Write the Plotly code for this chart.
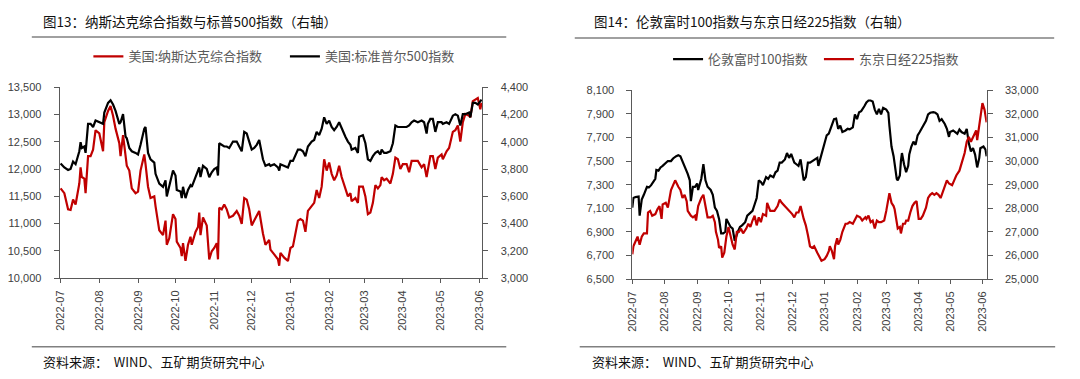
import plotly.graph_objects as go

# ---------------- data: chart 13 (Nasdaq / S&P 500) ----------------
L_DATES = [
    "2022-07-01", "2022-07-04", "2022-07-07", "2022-07-09", "2022-07-11", "2022-07-13", "2022-07-16", "2022-07-17",
    "2022-07-18", "2022-07-20", "2022-07-21", "2022-07-23", "2022-07-25", "2022-07-27", "2022-07-29",
    "2022-08-01", "2022-08-04", "2022-08-05", "2022-08-08", "2022-08-10", "2022-08-12", "2022-08-14", "2022-08-17",
    "2022-08-18", "2022-08-20", "2022-08-22", "2022-08-23", "2022-08-25", "2022-08-27", "2022-08-30",
    "2022-09-01", "2022-09-03", "2022-09-06", "2022-09-07", "2022-09-09", "2022-09-11", "2022-09-14", "2022-09-15",
    "2022-09-18", "2022-09-21", "2022-09-23", "2022-09-24", "2022-09-26", "2022-09-29",
    "2022-10-01", "2022-10-02", "2022-10-05", "2022-10-06", "2022-10-07", "2022-10-09", "2022-10-11", "2022-10-13",
    "2022-10-14", "2022-10-17", "2022-10-19", "2022-10-20", "2022-10-21", "2022-10-23", "2022-10-26", "2022-10-28",
    "2022-10-30",
    "2022-11-01", "2022-11-03", "2022-11-04", "2022-11-05", "2022-11-07", "2022-11-09", "2022-11-11", "2022-11-13",
    "2022-11-16", "2022-11-19", "2022-11-21", "2022-11-23", "2022-11-25", "2022-11-27", "2022-11-29",
    "2022-12-01", "2022-12-03", "2022-12-05", "2022-12-07", "2022-12-10", "2022-12-12", "2022-12-15", "2022-12-16",
    "2022-12-19", "2022-12-22", "2022-12-23", "2022-12-24", "2022-12-27", "2022-12-30",
    "2023-01-01", "2023-01-03", "2023-01-07", "2023-01-09", "2023-01-11", "2023-01-13", "2023-01-15", "2023-01-18",
    "2023-01-20", "2023-01-22", "2023-01-24", "2023-01-26", "2023-01-28", "2023-01-30",
    "2023-02-01", "2023-02-03", "2023-02-05", "2023-02-07", "2023-02-09", "2023-02-11", "2023-02-14", "2023-02-16",
    "2023-02-18", "2023-02-19", "2023-02-22", "2023-02-24", "2023-02-25", "2023-02-28",
    "2023-03-02", "2023-03-04", "2023-03-06", "2023-03-08", "2023-03-10", "2023-03-12", "2023-03-14", "2023-03-15",
    "2023-03-17", "2023-03-19", "2023-03-22", "2023-03-24", "2023-03-26", "2023-03-28", "2023-03-30",
    "2023-04-01", "2023-04-04", "2023-04-06", "2023-04-08", "2023-04-10", "2023-04-13", "2023-04-16", "2023-04-18",
    "2023-04-20", "2023-04-21", "2023-04-23", "2023-04-25", "2023-04-27", "2023-04-29",
    "2023-05-02", "2023-05-03", "2023-05-06", "2023-05-08", "2023-05-11", "2023-05-13", "2023-05-15", "2023-05-17",
    "2023-05-19", "2023-05-21", "2023-05-24", "2023-05-25", "2023-05-27", "2023-05-29", "2023-05-31",
    "2023-06-02", "2023-06-03",
]

NASDAQ = [
    11647, 11558, 11262, 11250, 11440, 11350, 11736, 12032, 11854, 11825, 11558, 12239, 12239, 12357, 12713,
    12654, 12328, 12861, 13068, 13157, 12979, 12742, 12476, 12239, 12624, 12180, 12061, 11973, 11647, 11558,
    11588, 11973, 12269, 12091, 11677, 11469, 11499, 11321, 10877, 10789, 11055, 10611, 10730, 11173,
    11085, 10670, 10552, 10404, 10641, 10315, 10611, 10759, 10611, 10848, 10937, 11203, 10789, 11114, 10966, 10345, 10493,
    10552, 10641, 10345, 11292, 11262, 11350, 11262, 11114, 11144, 11232, 11144, 10996, 11469, 11440, 11262,
    10966, 11055, 11144, 11232, 10818, 10611, 10700, 10523, 10434, 10345, 10227, 10463, 10375, 10315,
    10552, 10582, 11055, 11085, 11055, 10848, 11232, 11321, 11380, 11617, 11469, 11677, 12180, 11973,
    12121, 11913, 11795, 11884, 12061, 11854, 11647, 11499, 11558, 11410, 11469, 11380, 11677, 11677,
    11499, 11173, 11203, 11380, 11706, 11647, 11706, 11854, 11795, 11825, 11736, 11913, 12210, 12180, 12002,
    12091, 12091, 11943, 12150, 12150, 12150, 12032, 12091, 11854, 11973, 12239, 12239, 12002, 12210,
    12269, 12180, 12328, 12387, 12683, 12713, 12802, 12506, 12861, 13009, 12979, 12950, 13245, 13275, 13305,
    13098, 13216,
]

SPX = [
    3841, 3812, 3794, 3801, 3855, 3836, 3931, 3997, 3955, 3966, 3919, 4132, 4132, 4109, 4156,
    4144, 4132, 4215, 4286, 4305, 4274, 4227, 4132, 4144, 4203, 4038, 4026, 3955, 3931, 3919,
    3907, 3978, 4097, 4109, 3919, 3872, 3848, 3765, 3694, 3670, 3718, 3599, 3670, 3789,
    3753, 3647, 3635, 3587, 3670, 3587, 3647, 3682, 3670, 3741, 3789, 3812, 3741, 3824, 3801, 3741, 3777,
    3801, 3812, 3753, 3990, 3978, 3966, 3966, 3955, 4002, 4002, 3966, 3931, 4073, 4061, 4002,
    3943, 3955, 3978, 4014, 3872, 3824, 3836, 3824, 3836, 3812, 3789, 3836, 3824, 3812,
    3860, 3860, 3943, 3943, 3931, 3895, 3966, 4002, 4014, 4073, 4049, 4097, 4180, 4132,
    4156, 4109, 4085, 4109, 4144, 4097, 4038, 4002, 3978, 3943, 3955, 3919, 4038, 4049,
    3990, 3872, 3860, 3895, 3919, 3931, 3907, 3943, 3919, 3919, 3931, 3990, 4120, 4109, 4109,
    4109, 4109, 4120, 4144, 4156, 4144, 4156, 4144, 4061, 4132, 4168, 4168, 4073, 4144,
    4144, 4132, 4144, 4132, 4192, 4203, 4192, 4120, 4203, 4203, 4215, 4180, 4286, 4286, 4274,
    4298, 4310,
]

# ---------------- data: chart 14 (FTSE 100 / Nikkei 225) ----------------
FTSE_DATES = [
    "2022-07-01", "2022-07-02", "2022-07-04", "2022-07-07", "2022-07-08", "2022-07-10", "2022-07-12", "2022-07-15",
    "2022-07-17", "2022-07-19", "2022-07-23", "2022-07-24", "2022-07-26", "2022-07-28", "2022-07-30",
    "2022-08-02", "2022-08-04", "2022-08-07", "2022-08-09", "2022-08-12", "2022-08-14", "2022-08-16", "2022-08-18",
    "2022-08-20", "2022-08-23", "2022-08-25", "2022-08-26", "2022-08-28", "2022-08-30",
    "2022-09-01", "2022-09-02", "2022-09-05", "2022-09-07", "2022-09-09", "2022-09-11", "2022-09-14", "2022-09-16",
    "2022-09-18", "2022-09-20", "2022-09-22", "2022-09-24", "2022-09-26", "2022-09-28", "2022-09-29",
    "2022-10-01", "2022-10-03", "2022-10-05", "2022-10-07", "2022-10-10", "2022-10-12", "2022-10-14", "2022-10-17",
    "2022-10-19", "2022-10-22", "2022-10-24", "2022-10-26", "2022-10-28", "2022-10-30",
    "2022-11-01", "2022-11-03", "2022-11-06", "2022-11-08", "2022-11-10", "2022-11-13", "2022-11-15", "2022-11-17",
    "2022-11-19", "2022-11-21", "2022-11-24", "2022-11-26", "2022-11-28", "2022-11-30",
    "2022-12-03", "2022-12-05", "2022-12-07", "2022-12-09", "2022-12-12", "2022-12-14", "2022-12-16", "2022-12-18",
    "2022-12-20", "2022-12-22", "2022-12-25", "2022-12-26", "2022-12-28", "2022-12-31",
    "2023-01-03", "2023-01-05", "2023-01-07", "2023-01-10", "2023-01-12", "2023-01-14", "2023-01-16", "2023-01-18",
    "2023-01-21", "2023-01-23", "2023-01-25", "2023-01-28", "2023-01-30",
    "2023-02-01", "2023-02-03", "2023-02-05", "2023-02-08", "2023-02-10", "2023-02-12", "2023-02-14", "2023-02-16",
    "2023-02-18", "2023-02-20", "2023-02-22", "2023-02-24", "2023-02-26",
    "2023-03-01", "2023-03-03", "2023-03-04", "2023-03-06", "2023-03-08", "2023-03-09", "2023-03-11", "2023-03-12",
    "2023-03-14", "2023-03-15", "2023-03-16", "2023-03-18", "2023-03-20", "2023-03-22", "2023-03-23", "2023-03-25",
    "2023-03-27", "2023-03-29", "2023-03-31",
    "2023-04-02", "2023-04-05", "2023-04-08", "2023-04-10", "2023-04-12", "2023-04-15", "2023-04-17", "2023-04-19",
    "2023-04-21", "2023-04-23", "2023-04-26", "2023-04-28", "2023-04-30",
    "2023-05-01", "2023-05-04", "2023-05-06", "2023-05-08", "2023-05-10", "2023-05-12", "2023-05-15", "2023-05-17",
    "2023-05-19", "2023-05-21", "2023-05-23", "2023-05-25", "2023-05-27", "2023-05-29", "2023-05-30",
    "2023-06-02", "2023-06-04", "2023-06-05",
]

FTSE = [
    7105, 7187, 7195, 7200, 7037, 7173, 7214, 7282, 7277, 7296, 7350, 7424, 7419, 7446, 7459,
    7487, 7500, 7500, 7522, 7541, 7549, 7541, 7500, 7446, 7391, 7337, 7160, 7282, 7282,
    7310, 7255, 7350, 7473, 7337, 7282, 7255, 7214, 7105, 7078, 7010, 6887, 6887, 6901, 7010,
    6969, 6942, 6928, 6824, 6901, 6942, 6955, 6982, 7037, 7064, 7078, 7132, 7187, 7337,
    7323, 7296, 7364, 7350, 7378, 7364, 7405, 7419, 7487, 7487, 7514, 7568, 7527, 7560,
    7487, 7473, 7459, 7514, 7337, 7364, 7487, 7487, 7500, 7506, 7527, 7459, 7527, 7623,
    7718, 7732, 7786, 7855, 7860, 7773, 7800, 7746, 7759, 7773, 7768, 7786, 7896,
    7855, 7914, 7923, 7964, 7996, 8013, 8013, 8005, 7936, 7896, 7942, 7896, 7950,
    7936, 7909, 7800, 7623, 7541, 7473, 7350, 7337, 7378, 7500, 7568, 7473, 7405, 7459, 7555, 7623,
    7664, 7637, 7718,
    7746, 7800, 7841, 7896, 7909, 7914, 7909, 7896, 7841, 7855, 7814, 7773, 7705,
    7746, 7759, 7746, 7732, 7768, 7746, 7732, 7773, 7650, 7582, 7609, 7555, 7446, 7527, 7609,
    7623, 7596, 7541,
]

NIKKEI_DATES = [
    "2022-07-01", "2022-07-02", "2022-07-04", "2022-07-06", "2022-07-08", "2022-07-10", "2022-07-12", "2022-07-15",
    "2022-07-16", "2022-07-18", "2022-07-20", "2022-07-23", "2022-07-25", "2022-07-27", "2022-07-29", "2022-07-30",
    "2022-08-02", "2022-08-04", "2022-08-07", "2022-08-09", "2022-08-11", "2022-08-14", "2022-08-16", "2022-08-18",
    "2022-08-20", "2022-08-22", "2022-08-23", "2022-08-26", "2022-08-28", "2022-08-30", "2022-08-31",
    "2022-09-02", "2022-09-05", "2022-09-07", "2022-09-09", "2022-09-11", "2022-09-14", "2022-09-16", "2022-09-18",
    "2022-09-19", "2022-09-21", "2022-09-22", "2022-09-24", "2022-09-25", "2022-09-27", "2022-09-29",
    "2022-10-01", "2022-10-03", "2022-10-05", "2022-10-07", "2022-10-09", "2022-10-11", "2022-10-13", "2022-10-15",
    "2022-10-18", "2022-10-20", "2022-10-22", "2022-10-24", "2022-10-26", "2022-10-28", "2022-10-30",
    "2022-11-01", "2022-11-03", "2022-11-06", "2022-11-07", "2022-11-10", "2022-11-12", "2022-11-14", "2022-11-17",
    "2022-11-19", "2022-11-21", "2022-11-24", "2022-11-26", "2022-11-29",
    "2022-12-01", "2022-12-03", "2022-12-05", "2022-12-07", "2022-12-09", "2022-12-12", "2022-12-14", "2022-12-16",
    "2022-12-18", "2022-12-20", "2022-12-22", "2022-12-25", "2022-12-27", "2022-12-29",
    "2023-01-01", "2023-01-03", "2023-01-05", "2023-01-06", "2023-01-08", "2023-01-10", "2023-01-11", "2023-01-13",
    "2023-01-14", "2023-01-16", "2023-01-18", "2023-01-21", "2023-01-23", "2023-01-25", "2023-01-28", "2023-01-30",
    "2023-02-01", "2023-02-04", "2023-02-06", "2023-02-09", "2023-02-10", "2023-02-12", "2023-02-14", "2023-02-16",
    "2023-02-18", "2023-02-20", "2023-02-22", "2023-02-24", "2023-02-27",
    "2023-03-01", "2023-03-03", "2023-03-04", "2023-03-06", "2023-03-08", "2023-03-09", "2023-03-11", "2023-03-12",
    "2023-03-14", "2023-03-15", "2023-03-17", "2023-03-19", "2023-03-20", "2023-03-22", "2023-03-24", "2023-03-26",
    "2023-03-28", "2023-03-30",
    "2023-04-01", "2023-04-03", "2023-04-05", "2023-04-08", "2023-04-10", "2023-04-12", "2023-04-14", "2023-04-16",
    "2023-04-18", "2023-04-20", "2023-04-22", "2023-04-24", "2023-04-26", "2023-04-28", "2023-04-30",
    "2023-05-03", "2023-05-05", "2023-05-07", "2023-05-10", "2023-05-12", "2023-05-15", "2023-05-17", "2023-05-19",
    "2023-05-21", "2023-05-23", "2023-05-26", "2023-05-27", "2023-05-29", "2023-05-30",
    "2023-06-01", "2023-06-03", "2023-06-04", "2023-06-05",
]

NIKKEI = [
    26049, 26389, 26594, 26798, 26457, 26798, 26935, 26935, 27821, 27889, 27684, 27753, 27957, 28093, 27548, 28161,
    28230, 28025, 28775, 28979, 29184, 28911, 28775, 28434, 28570, 28298, 27889, 27684, 27616, 27684, 27480,
    28093, 28434, 28570, 28093, 27616, 27616, 27684, 27412, 27003, 26662, 26321, 26389, 25912, 26116, 26798,
    27207, 26798, 26457, 26253, 27003, 27003, 27139, 26935, 27139, 27344, 27207, 27480, 27684, 27275, 27616,
    27412, 27753, 27684, 28230, 27889, 27889, 27889, 28093, 28366, 28230, 28093, 27957, 27821,
    27753, 27616, 27821, 27821, 28093, 27548, 27275, 26866, 26389, 26321, 26389, 26116, 25912, 25776,
    25844, 25980, 26185, 26389, 26185, 25844, 26389, 26730, 26457, 26662, 27003, 27344, 27344, 27412, 27344, 27548,
    27684, 27616, 27480, 27616, 27548, 27684, 27412, 27480, 27139, 27480, 27412, 27412, 27480,
    27889, 28366, 28639, 28230, 28093, 27957, 27412, 27139, 27207, 26935, 27344, 27344, 27480, 27480, 27821, 28093,
    28230, 28298,
    27548, 27548, 27684, 28025, 28434, 28570, 28639, 28570, 28639, 28570, 28434, 28707, 28979, 29184, 29048,
    28979, 29184, 29389, 29593, 29866, 30342, 30819, 31024, 30819, 31024, 31296, 30887, 31569, 31978,
    32455, 32182, 31773, 31637,
]

MONTH_TICKS = ["2022-07-01", "2022-08-01", "2022-09-01", "2022-10-01", "2022-11-01", "2022-12-01",
               "2023-01-01", "2023-02-01", "2023-03-01", "2023-04-01", "2023-05-01", "2023-06-01"]
MONTH_LABELS = ["2022-07", "2022-08", "2022-09", "2022-10", "2022-11", "2022-12",
                "2023-01", "2023-02", "2023-03", "2023-04", "2023-05", "2023-06"]

TITLE_L = "图13：纳斯达克综合指数与标普500指数（右轴）"
TITLE_R = "图14：伦敦富时100指数与东京日经225指数（右轴）"
SOURCE = "资料来源：  WIND、五矿期货研究中心"

# ---------------- figure ----------------
W, H = 1080, 379
CJK = "Noto Sans CJK SC"
NUM = "Liberation Sans"
RED = "#C00000"
BLACK = "#000000"
AXC = "#595959"
TXT = "#404040"


def px_x(p):
    return p / W


def px_y(p):
    return 1 - p / H


fig = go.Figure()
fig.add_trace(go.Scatter(x=L_DATES, y=NASDAQ, mode="lines", name="美国:纳斯达克综合指数",
                         line=dict(color=RED, width=2.2), xaxis="x", yaxis="y", legend="legend"))
fig.add_trace(go.Scatter(x=L_DATES, y=SPX, mode="lines", name="美国:标准普尔500指数",
                         line=dict(color=BLACK, width=2.2), xaxis="x", yaxis="y2", legend="legend2"))
fig.add_trace(go.Scatter(x=FTSE_DATES, y=FTSE, mode="lines", name="伦敦富时100指数",
                         line=dict(color=BLACK, width=2.2), xaxis="x2", yaxis="y3", legend="legend3"))
fig.add_trace(go.Scatter(x=NIKKEI_DATES, y=NIKKEI, mode="lines", name="东京日经225指数",
                         line=dict(color=RED, width=2.2), xaxis="x2", yaxis="y4", legend="legend4"))

xcommon = dict(type="date", tickmode="array", tickvals=MONTH_TICKS, ticktext=MONTH_LABELS, tickangle=-90,
               ticks="outside", ticklen=4, tickcolor=AXC, showline=True, linecolor=AXC, linewidth=1,
               showgrid=False, zeroline=False, tickfont=dict(family=NUM, size=11, color=TXT),
               ticklabelstandoff=3, fixedrange=True)
ycommon = dict(ticks="outside", ticklen=5, tickcolor=AXC, showline=True, linecolor=AXC, linewidth=1,
               showgrid=False, zeroline=False, tickformat=",d", tickfont=dict(family=NUM, size=11, color=TXT),
               ticklabelstandoff=10, fixedrange=True)

L_DOM_X = [px_x(54), px_x(480)]
R_DOM_X = [px_x(631), px_x(988)]
L_DOM_Y = [px_y(281), px_y(84)]
R_DOM_Y = [px_y(282), px_y(87)]

fig.update_layout(
    width=W, height=H, autosize=False,
    margin=dict(l=0, r=0, t=0, b=0),
    paper_bgcolor="white", plot_bgcolor="white",
    xaxis=dict(xcommon, domain=L_DOM_X, anchor="y", range=["2022-06-30 05:00", "2023-06-03 17:00"]),
    yaxis=dict(ycommon, domain=L_DOM_Y, anchor="x", range=[10000, 13500], dtick=500, tick0=10000),
    yaxis2=dict(ycommon, domain=L_DOM_Y, anchor="x", overlaying="y", side="right",
                range=[3000, 4400], dtick=200, tick0=3000),
    xaxis2=dict(xcommon, domain=R_DOM_X, anchor="y3", range=["2022-07-01", "2023-06-05 02:00"]),
    yaxis3=dict(ycommon, domain=R_DOM_Y, anchor="x2", range=[6500, 8100], dtick=200, tick0=6500),
    yaxis4=dict(ycommon, domain=R_DOM_Y, anchor="x2", overlaying="y3", side="right",
                range=[25000, 33000], dtick=1000, tick0=25000),
    showlegend=True,
)

leg_font = dict(family=CJK, size=13, color="#595959")
for name, xp, yp in [("legend", 83, 52), ("legend2", 281, 52), ("legend3", 667, 55), ("legend4", 819, 55)]:
    fig.update_layout({name: dict(x=px_x(xp), y=px_y(yp), xanchor="left", yanchor="middle",
                                  orientation="h", font=leg_font, bgcolor="rgba(0,0,0,0)",
                                  borderwidth=0, itemclick=False, itemdoubleclick=False)})

shapes = []
for x0, x1, y in [(26, 504, 32), (573, 1056, 33), (26, 504, 352), (578, 1057, 352)]:
    shapes.append(dict(type="line", xref="paper", yref="paper", x0=px_x(x0), x1=px_x(x1),
                       y0=px_y(y), y1=px_y(y), line=dict(color="#808080", width=1.5)))
fig.update_layout(shapes=shapes)

annotations = [
    dict(text=TITLE_L, x=px_x(35), y=px_y(15)),
    dict(text=TITLE_R, x=px_x(590), y=px_y(15)),
    dict(text=SOURCE, x=px_x(35), y=px_y(367)),
    dict(text=SOURCE, x=px_x(588), y=px_y(367)),
]
for a in annotations:
    a.update(xref="paper", yref="paper", xanchor="left", yanchor="middle", showarrow=False,
             font=dict(family=CJK, size=13.5 if "图" in a["text"] else 13, color="#111111"))
fig.update_layout(annotations=annotations)

fig.write_html("out.html", config={"displayModeBar": False, "staticPlot": True},
               post_script="document.body.style.margin='0';document.body.style.overflow='hidden';")
